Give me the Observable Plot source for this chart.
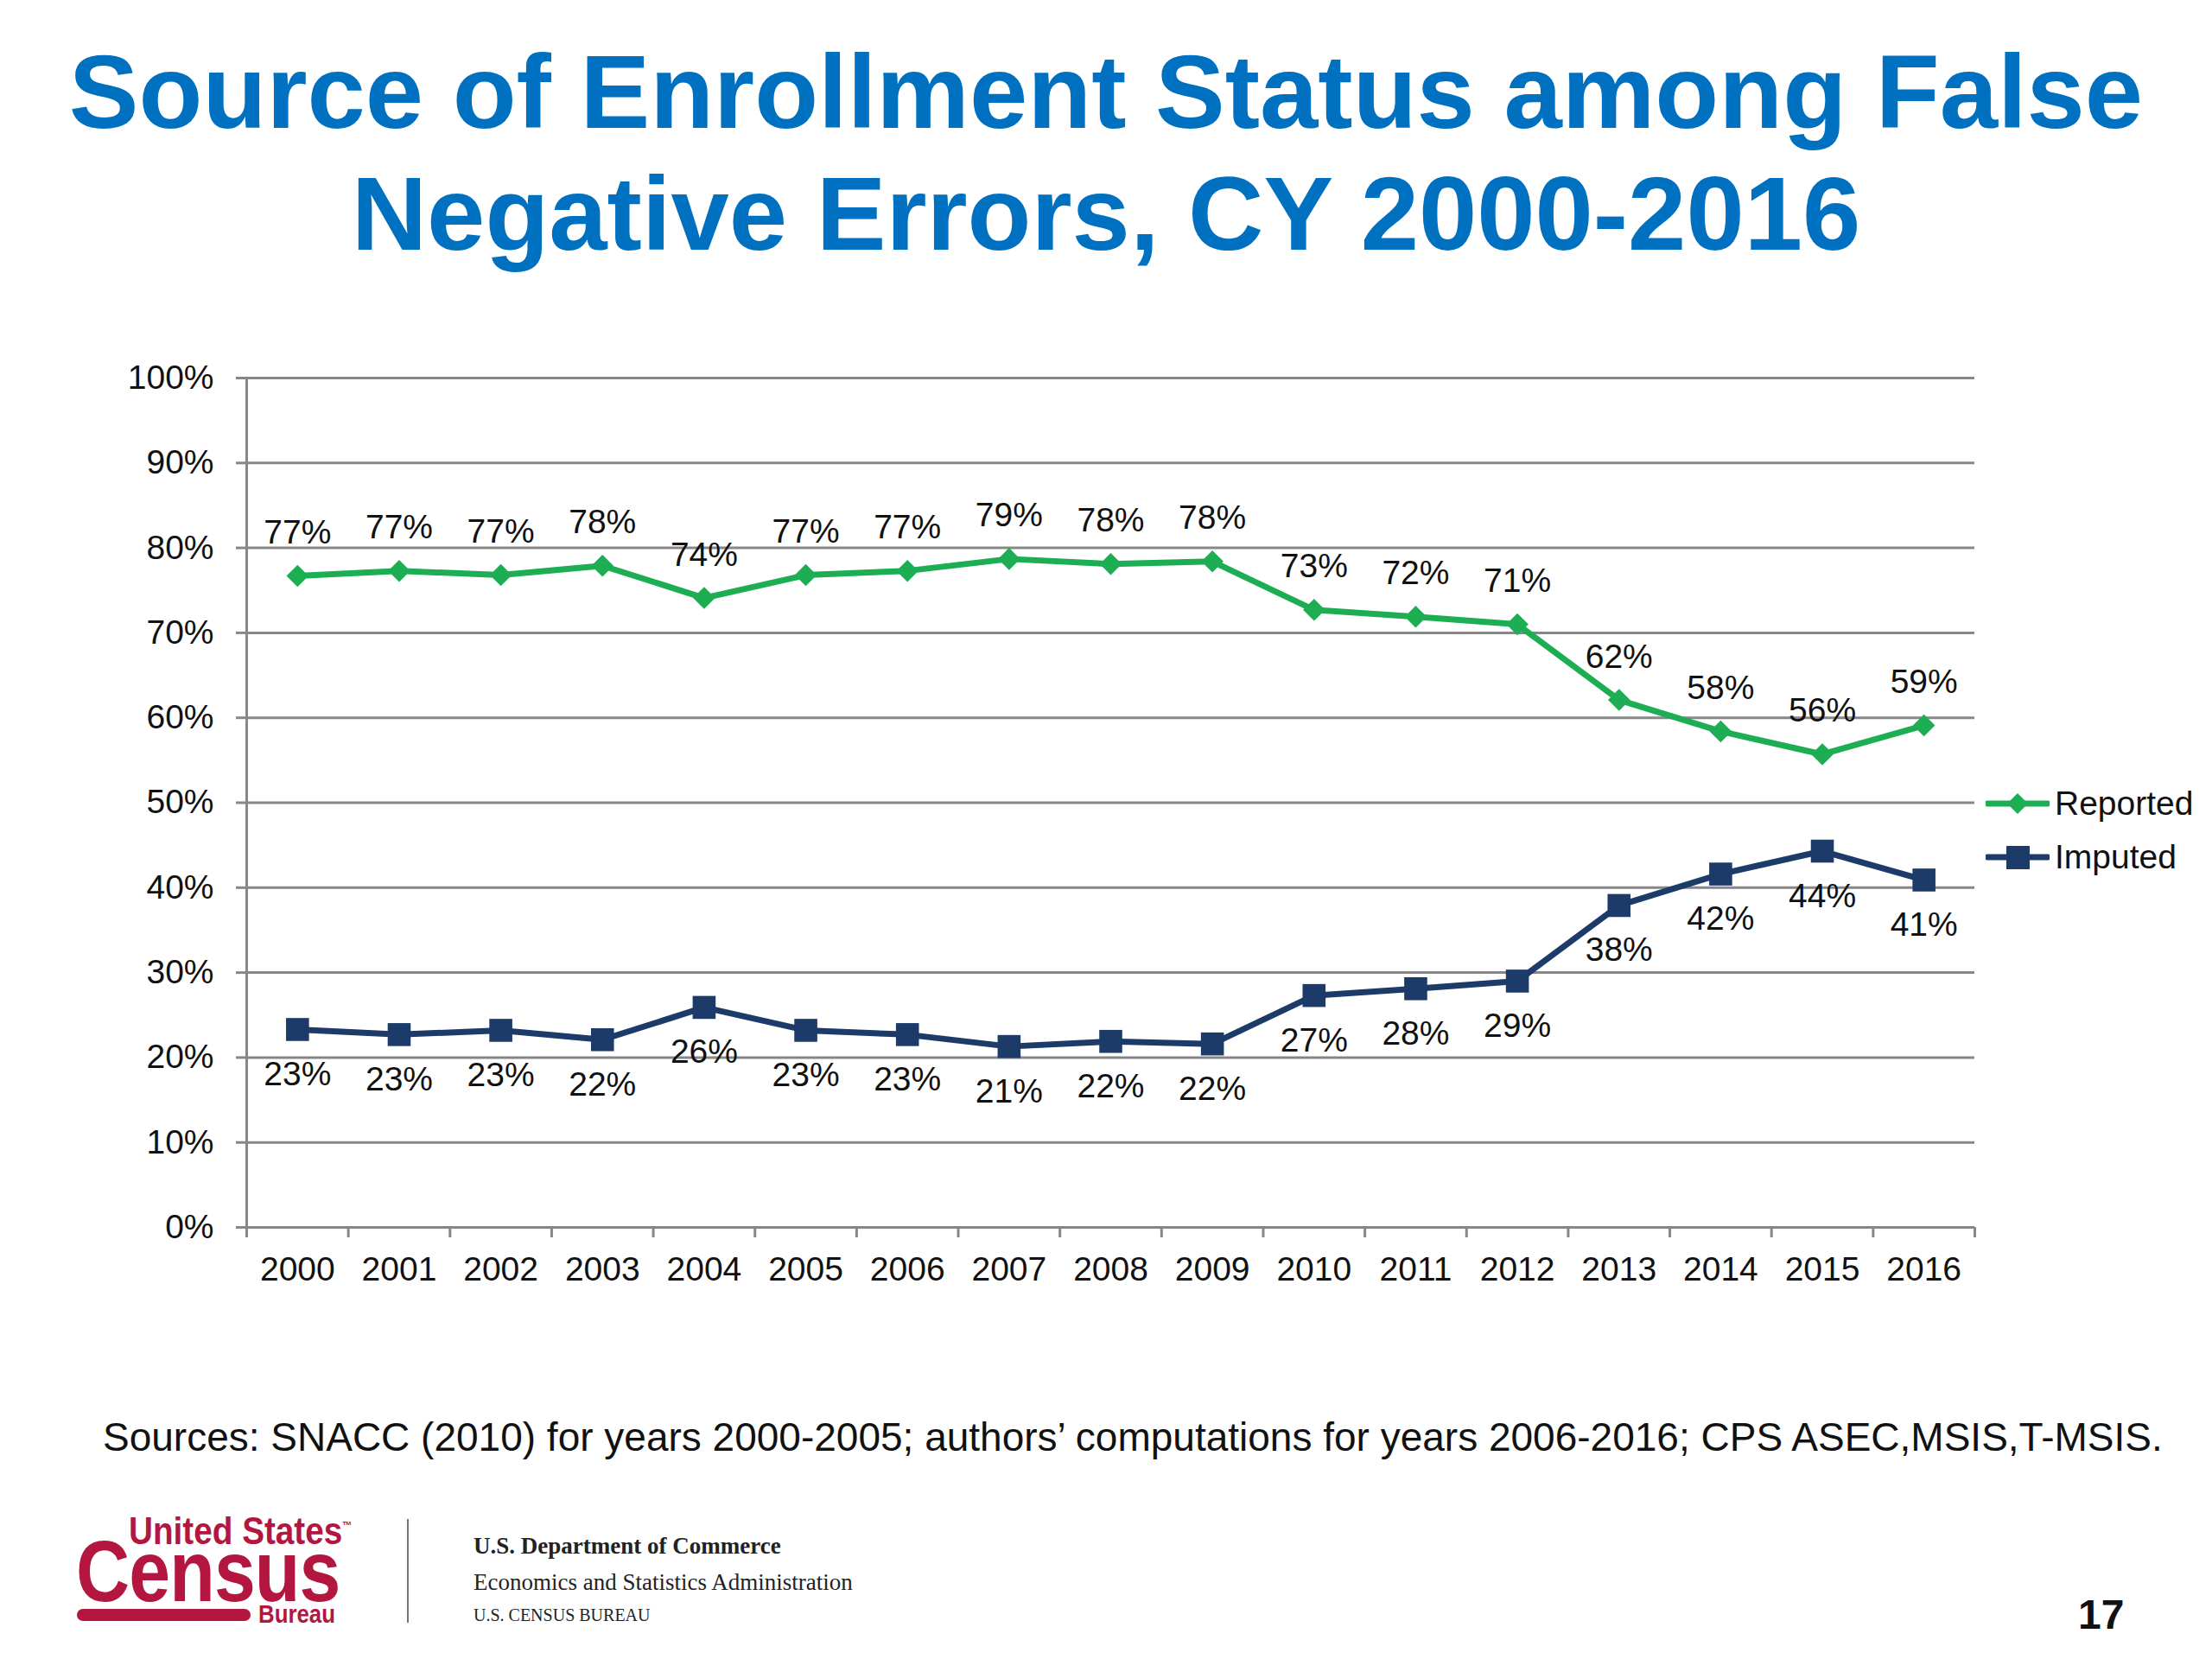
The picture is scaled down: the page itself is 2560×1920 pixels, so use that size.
<!DOCTYPE html>
<html>
<head>
<meta charset="utf-8">
<script src="https://cdn.jsdelivr.net/npm/d3@7"></script>
<script src="https://cdn.jsdelivr.net/npm/@observablehq/plot@0.6"></script>
<style>
  html, body { margin: 0; padding: 0; background: #fff; }
  #page { position: relative; width: 2560px; height: 1920px; background: #fff; overflow: hidden; font-family: "Liberation Sans", Arial, sans-serif; }
  .abs { position: absolute; white-space: nowrap; }
  #title { top: 36px; left: 0; width: 2560px; text-align: center; font-weight: bold; font-size: 121px; line-height: 141px; color: #0070C0; }
  #chart { top: 380px; left: 0; }
  .leg { left: 2298px; height: 40px; display: flex; align-items: center; font-size: 39px; line-height: 40px; color: #111; }
  .leg svg { margin-right: 6px; }
  #caption { top: 1640px; left: 119px; font-size: 46px; line-height: 46px; color: #111; }
  .serif { font-family: "Liberation Serif", "Times New Roman", serif; color: #222; }
  .narrow { font-family: "Liberation Sans Narrow", "Liberation Sans", Arial, sans-serif; font-weight: bold; color: #B3163F; transform-origin: 0 0; transform: scaleX(0.86); }
</style>
</head>
<body>
<div id="page">
  <div id="title" class="abs">Source of Enrollment Status among False<br>Negative Errors, CY 2000-2016</div>
  <div id="chart" class="abs"></div>
  <div id="legend"></div>
  <div id="caption" class="abs">Sources: SNACC (2010) for years 2000-2005; authors’ computations for years 2006-2016; CPS ASEC,MSIS,T-MSIS.</div>

  <div class="abs narrow" style="left:149px; top:1757px; font-size:45px; line-height:30px;">United States<span style="font-size:13px; vertical-align:top; position:relative; top:-6px;">™</span></div>
  <div class="abs narrow" style="left:88px; top:1783px; font-size:100px; line-height:70px; letter-spacing:-1px;">Census</div>
  <div class="abs" style="left:89px; top:1862px; width:201px; height:14px; border-radius:7px; background:#B3163F;"></div>
  <div class="abs narrow" style="left:299px; top:1857px; font-size:30px; line-height:22px;">Bureau</div>
  <div class="abs" style="left:471px; top:1758px; width:2px; height:120px; background:#777;"></div>
  <div class="abs serif" style="left:548px; top:1776px; font-size:27px; line-height:27px; font-weight:bold;">U.S. Department of Commerce</div>
  <div class="abs serif" style="left:548px; top:1818px; font-size:27px; line-height:27px;">Economics and Statistics Administration</div>
  <div class="abs serif" style="left:548px; top:1859px; font-size:20px; line-height:20px;">U.S. CENSUS BUREAU</div>
  <div class="abs" style="left:2405px; top:1845px; font-size:48px; line-height:48px; font-weight:bold; color:#111;">17</div>
</div>
<script>
// ---- data ----
const years = [2000, 2001, 2002, 2003, 2004, 2005, 2006, 2007, 2008, 2009, 2010, 2011, 2012, 2013, 2014, 2015, 2016];
const reported = [76.7, 77.3, 76.8, 77.9, 74.1, 76.8, 77.3, 78.7, 78.1, 78.4, 72.7, 71.9, 71.0, 62.1, 58.4, 55.7, 59.1];
const imputed  = [23.3, 22.7, 23.2, 22.1, 25.9, 23.2, 22.7, 21.3, 21.9, 21.6, 27.3, 28.1, 29.0, 37.9, 41.6, 44.3, 40.9];
const seriesNames = ["Reported", "Imputed"];
const yTicks = [0, 10, 20, 30, 40, 50, 60, 70, 80, 90, 100];

const GREEN = "#1DAE54";
const NAVY = "#1C3B68";
const GRID = "#878787";
const INK = "#111";

const rows = years.map((year, i) => ({year, reported: reported[i], imputed: imputed[i]}));
const edges = [years[0] - 0.5, ...years.map(y => y + 0.5)];

const chart = Plot.plot({
  width: 2300,
  height: 1130,
  marginLeft: 285,
  marginRight: 15,
  marginTop: 57,
  marginBottom: 90,
  x: {domain: [edges[0], edges[edges.length - 1]]},
  y: {domain: [0, 100]},
  style: {fontFamily: "'Liberation Sans', Arial, sans-serif", fontSize: "39px", color: INK, background: "transparent", overflow: "visible"},
  marks: [
    Plot.gridY(yTicks, {stroke: GRID, strokeOpacity: 1, strokeWidth: 3}),
    Plot.ruleX([edges[0]], {stroke: GRID, strokeWidth: 3, insetBottom: -12}),
    Plot.axisY(yTicks, {label: null, tickFormat: d => d + "%", tickSize: 12, tickPadding: 26, stroke: GRID, strokeWidth: 3, fill: INK, fontSize: 39}),
    Plot.axisX(edges, {label: null, tickSize: 12, stroke: GRID, strokeWidth: 3, fill: "none"}),
    Plot.axisX(years, {label: null, tickSize: 0, tickPadding: 34, tickFormat: d => String(d), fill: INK, fontSize: 39}),
    Plot.line(rows, {x: "year", y: "reported", stroke: GREEN, strokeWidth: 7}),
    Plot.dot(rows, {x: "year", y: "reported", symbol: "diamond2", r: 11.5, fill: GREEN}),
    Plot.line(rows, {x: "year", y: "imputed", stroke: NAVY, strokeWidth: 7}),
    Plot.dot(rows, {x: "year", y: "imputed", symbol: "square", r: 15, fill: NAVY}),
    Plot.text(rows, {x: "year", y: "reported", text: d => Math.round(d.reported) + "%", dy: -50, fontSize: 39, fill: INK}),
    Plot.text(rows, {x: "year", y: "imputed", text: d => Math.round(d.imputed) + "%", dy: 52, fontSize: 39, fill: INK})
  ]
});
document.getElementById("chart").appendChild(chart);

// ---- legend ----
const legend = document.getElementById("legend");
const legendItems = [
  {name: seriesNames[0], color: GREEN, marker: "diamond", top: 910},
  {name: seriesNames[1], color: NAVY, marker: "square", top: 972}
];
for (const it of legendItems) {
  const div = document.createElement("div");
  div.className = "abs leg";
  div.style.top = it.top + "px";
  const m = it.marker === "diamond"
    ? `<path d="M37,8 L49,20 L37,32 L25,20 Z" fill="${it.color}"/>`
    : `<rect x="24" y="7" width="27" height="27" fill="${it.color}"/>`;
  div.innerHTML = `<svg width="74" height="40" viewBox="0 0 74 40"><line x1="2" y1="20" x2="72" y2="20" stroke="${it.color}" stroke-width="7" stroke-linecap="round"/>${m}</svg><span>${it.name}</span>`;
  legend.appendChild(div);
}
</script>
</body>
</html>
